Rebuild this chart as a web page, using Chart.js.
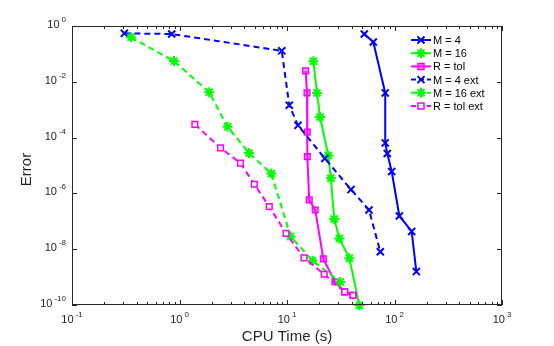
<!DOCTYPE html>
<html>
<head>
  <title>Error vs CPU Time</title>
  <script src="https://cdn.jsdelivr.net/npm/chart.js"></script>
  <style>
    body { margin: 0; background: #fff; }
    canvas { display: block; }
  </style>
</head>
<body>
  <canvas id="errChart" width="554" height="346"></canvas>

  <script>
    // values (CPU time in s, error)
    const m4Time = [52.4, 63.5, 82.0, 82.0, 85.7, 94.2, 111, 144.5, 159.6];
    const m4Err = [0.515, 0.266, 4.0e-3, 6.45e-5, 2.7e-5, 6.1e-6, 1.55e-7, 4.34e-8, 1.58e-9];

    const m16Time = [17.6, 19.0, 20.3, 24.2, 25.6, 27.5, 30.7, 38.0, 47.1];
    const m16Err = [0.055, 4.0e-3, 5.46e-4, 2.29e-5, 3.49e-6, 1.21e-7, 2.43e-8, 4.78e-9, 9.7e-11];

    const rTolTime = [14.9, 15.35, 15.45, 15.45, 16.1, 18.3, 21.8, 28.0, 34.4, 41.1];
    const rTolErr = [0.0247, 4.0e-3, 1.58e-4, 2.07e-5, 5.83e-7, 2.55e-7, 4.5e-9, 6.7e-10, 2.94e-10, 2.23e-10];

    const m4ExtTime = [0.307, 0.846, 8.94, 10.5, 12.65, 22.5, 39.4, 57.9, 73.8];
    const m4ExtErr = [0.546, 0.515, 0.129, 1.44e-3, 2.75e-4, 1.79e-5, 1.37e-6, 2.55e-7, 8.1e-9];

    const m16ExtTime = [0.354, 0.889, 1.89, 2.80, 4.43, 7.15, 10.8, 17.3, 31.3];
    const m16ExtErr = [0.392, 0.0551, 4.2e-3, 2.43e-4, 2.82e-5, 5.15e-6, 2.86e-8, 3.83e-9, 6.7e-10];

    const rTolExtTime = [1.39, 2.41, 3.69, 4.97, 6.84, 9.8, 14.4, 22.2, 34.4, 41.1];
    const rTolExtErr = [2.98e-4, 4.26e-5, 1.21e-5, 2.12e-6, 3.35e-7, 3.67e-8, 4.9e-9, 1.27e-9, 2.94e-10, 2.23e-10];

    const seriesNames = ["M = 4", "M = 16", "R = tol", "M = 4 ext", "M = 16 ext", "R = tol ext"];
    const xDecades = [-1, 0, 1, 2, 3];
    const yDecades = [0, -2, -4, -6, -8, -10];

    const BLUE = "#0000ff", GREEN = "#00ff00", MAGENTA = "#ff00ff";
    const FONT = "'Liberation Sans', Arial, sans-serif";

    const pts = (xs, ys) => xs.map((x, i) => ({ x, y: ys[i] }));

    function series(label, xs, ys, color, marker, dashed, fill) {
      const isStar = marker === "star";
      return {
        label,
        data: pts(xs, ys),
        borderColor: color,
        backgroundColor: fill,
        borderWidth: 2,
        borderDash: dashed ? [6, 4] : [],
        pointStyle: marker,
        pointRadius: marker === "rect" ? 4 : 5,
        pointBorderColor: color,
        pointBackgroundColor: fill,
        pointBorderWidth: isStar ? 2 : (marker === "rect" ? 1.5 : 2),
        tension: 0,
        fill: false,
        clip: false
      };
    }

    const datasets = [
      series(seriesNames[0], m4Time, m4Err, BLUE, "crossRot", false, BLUE),
      series(seriesNames[1], m16Time, m16Err, GREEN, "star", false, GREEN),
      series(seriesNames[2], rTolTime, rTolErr, MAGENTA, "rect", false, "rgba(255,0,255,0.35)"),
      series(seriesNames[3], m4ExtTime, m4ExtErr, BLUE, "crossRot", true, BLUE),
      series(seriesNames[4], m16ExtTime, m16ExtErr, GREEN, "star", true, GREEN),
      series(seriesNames[5], rTolExtTime, rTolExtErr, MAGENTA, "rect", true, "#ffffff")
    ];
    // later series drawn on top, like the original
    datasets.forEach((d, i) => { d.order = datasets.length - i; });

    function marker(ctx, style, x, y, color, fill) {
      ctx.save();
      ctx.strokeStyle = color;
      ctx.setLineDash([]);
      ctx.beginPath();
      if (style === "crossRot") {
        const s = 3.5;
        ctx.lineWidth = 2;
        ctx.moveTo(x - s, y - s); ctx.lineTo(x + s, y + s);
        ctx.moveTo(x - s, y + s); ctx.lineTo(x + s, y - s);
        ctx.stroke();
      } else if (style === "star") {
        const s = 5, d = 3.5;
        ctx.lineWidth = 2;
        ctx.moveTo(x - s, y); ctx.lineTo(x + s, y);
        ctx.moveTo(x, y - s); ctx.lineTo(x, y + s);
        ctx.moveTo(x - d, y - d); ctx.lineTo(x + d, y + d);
        ctx.moveTo(x - d, y + d); ctx.lineTo(x + d, y - d);
        ctx.stroke();
      } else {
        ctx.lineWidth = 1.5;
        ctx.fillStyle = fill;
        ctx.rect(x - 3, y - 3, 6, 6);
        ctx.fill();
        ctx.stroke();
      }
      ctx.restore();
    }

    function pow10(ctx, x, y, exp, align) {
      ctx.font = "11px " + FONT;
      const base = "10";
      const wb = ctx.measureText(base).width;
      ctx.font = "8px " + FONT;
      const ex = String(exp).replace("-", "-");
      const we = ctx.measureText(ex).width;
      const w = wb + 2 + we;
      let x0 = align === "center" ? x - w / 2 : x - w;
      ctx.textAlign = "left";
      ctx.textBaseline = "alphabetic";
      ctx.font = "11px " + FONT;
      ctx.fillText(base, x0, y);
      ctx.font = "8px " + FONT;
      ctx.fillText(ex, x0 + wb + 2, y - 6);
    }

    const axesPlugin = {
      id: "matlabAxes",
      afterDraw(chart) {
        const ctx = chart.ctx;
        const xs = chart.scales.x, ys = chart.scales.y;
        const { left, right, top, bottom } = chart.chartArea;
        ctx.save();
        ctx.strokeStyle = "#262626";
        ctx.fillStyle = "#262626";
        ctx.lineWidth = 1;
        ctx.setLineDash([]);
        ctx.strokeRect(left + 0.5, top + 0.5, right - left - 1, bottom - top - 1);

        ctx.beginPath();
        xDecades.forEach(e => {
          const px = Math.round(xs.getPixelForValue(Math.pow(10, e))) + 0.5;
          ctx.moveTo(px, bottom); ctx.lineTo(px, bottom - 5);
          ctx.moveTo(px, top); ctx.lineTo(px, top + 5);
          if (e < 3) {
            for (let m = 2; m <= 9; m++) {
              const mx = Math.round(xs.getPixelForValue(m * Math.pow(10, e))) + 0.5;
              ctx.moveTo(mx, bottom); ctx.lineTo(mx, bottom - 3);
              ctx.moveTo(mx, top); ctx.lineTo(mx, top + 3);
            }
          }
        });
        yDecades.forEach(e => {
          const py = Math.round(ys.getPixelForValue(Math.pow(10, e))) + 0.5;
          ctx.moveTo(left, py); ctx.lineTo(left + 5, py);
          ctx.moveTo(right, py); ctx.lineTo(right - 5, py);
        });
        ctx.stroke();

        xDecades.forEach(e => {
          pow10(ctx, xs.getPixelForValue(Math.pow(10, e)), bottom + 18, e, "center");
        });
        yDecades.forEach(e => {
          pow10(ctx, left - 6, ys.getPixelForValue(Math.pow(10, e)) + 2, e, "right");
        });

        ctx.font = "15px " + FONT;
        ctx.textAlign = "center";
        ctx.textBaseline = "alphabetic";
        ctx.fillText("CPU Time (s)", (left + right) / 2, bottom + 36);
        ctx.save();
        ctx.translate(31, (top + bottom) / 2 + 4);
        ctx.rotate(-Math.PI / 2);
        ctx.fillText("Error", 0, 0);
        ctx.restore();

        // legend
        ctx.font = "11px " + FONT;
        ctx.textAlign = "left";
        ctx.textBaseline = "middle";
        chart.data.datasets.forEach((d, i) => {
          const ly = 40 + i * 13.2;
          ctx.save();
          ctx.strokeStyle = d.borderColor;
          ctx.lineWidth = 2;
          ctx.setLineDash(d.borderDash.length ? [5, 3] : []);
          ctx.beginPath();
          ctx.moveTo(411, ly); ctx.lineTo(431, ly);
          ctx.stroke();
          ctx.restore();
          marker(ctx, d.pointStyle, 421, ly, d.borderColor, d.pointBackgroundColor);
          ctx.fillStyle = "#000";
          ctx.fillText(d.label, 433, ly + 1);
        });
        ctx.restore();
      }
    };

    new Chart(document.getElementById("errChart"), {
      type: "line",
      data: { datasets },
      options: {
        responsive: false,
        animation: false,
        layout: { padding: { top: 26, right: 52, left: 0, bottom: 0 } },
        plugins: { legend: { display: false }, tooltip: { enabled: false } },
        scales: {
          x: {
            type: "logarithmic", min: 0.1, max: 1000,
            grid: { display: false }, border: { display: false },
            ticks: { display: false },
            afterFit(s) { s.height = 41; }
          },
          y: {
            type: "logarithmic", min: 1e-10, max: 1,
            grid: { display: false }, border: { display: false },
            ticks: { display: false },
            afterFit(s) { s.width = 72; }
          }
        }
      },
      plugins: [axesPlugin]
    });
  </script>
</body>
</html>
